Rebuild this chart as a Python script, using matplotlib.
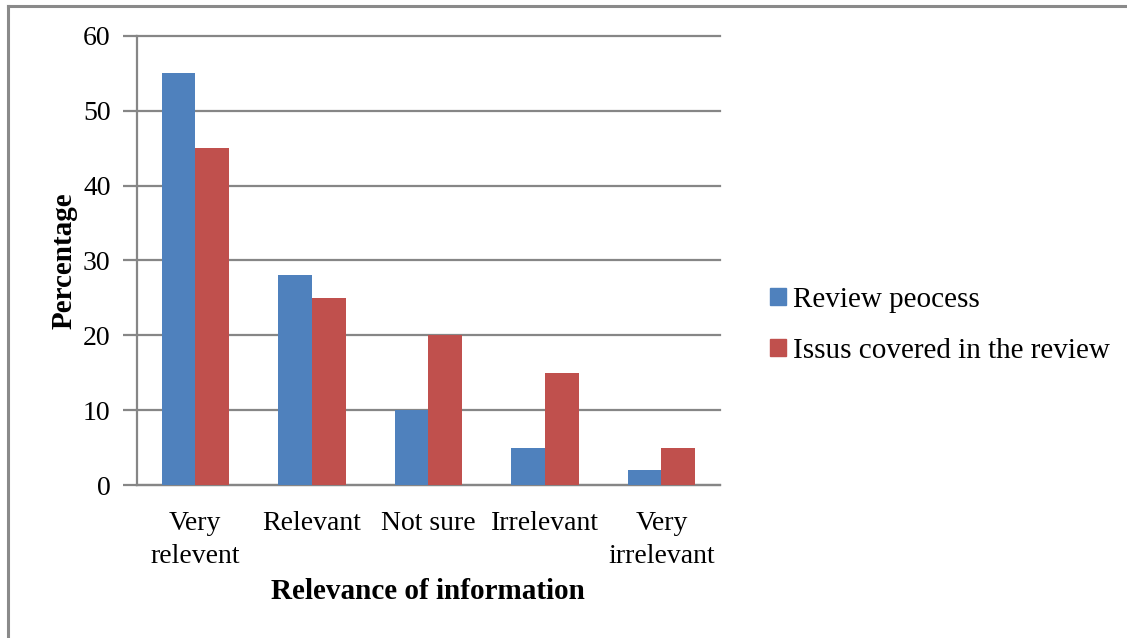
import numpy as np
import matplotlib.pyplot as plt
from matplotlib.lines import Line2D
from matplotlib.patches import Patch

# survey answers on how relevant the information was
categories = ["Very\nrelevent", "Relevant", "Not sure", "Irrelevant", "Very\nirrelevant"]
review_process = [55, 28, 10, 5, 2]
issues_covered = [45, 25, 20, 15, 5]
series_names = ["Review peocess", "Issus covered in the review"]

plt.rcParams['font.family'] = ['Liberation Serif', 'DejaVu Serif']

fig = plt.figure(figsize=(11.27, 6.38), dpi=100)
ax = fig.add_axes([0.1216, 0.2398, 0.517, 0.7038])

x = np.arange(len(categories))
w = 0.29
blue = '#4F81BD'
red = '#C0504D'
ax.bar(x - w / 2, review_process, w, color=blue, zorder=3)
ax.bar(x + w / 2, issues_covered, w, color=red, zorder=3)

ax.set_xlim(-0.5, len(categories) - 0.5)
ax.set_ylim(0, 60)
ax.set_yticks(range(0, 61, 10))
ax.yaxis.grid(True, color='#868686', linewidth=1.6, zorder=0)
for gl in ax.get_ygridlines():
    gl.set_clip_on(False)
ax.set_xticks(x)
ax.set_xticklabels(categories, fontsize=20, linespacing=1.42)
ax.tick_params(axis='x', length=0, pad=19)
ax.tick_params(axis='y', labelsize=20, length=10, width=1.6, color='#868686', pad=9)

for side in ['top', 'right']:
    ax.spines[side].set_visible(False)
for side in ['left', 'bottom']:
    ax.spines[side].set_color('#868686')
    ax.spines[side].set_linewidth(1.6)

ax.set_ylabel("Percentage", fontsize=21, fontweight='bold', labelpad=4)
ax.set_xlabel("Relevance of information", fontsize=21, fontweight='bold', labelpad=6)

handles = [Patch(color=blue), Patch(color=red)]
fig.legend(handles, series_names, loc='center left', bbox_to_anchor=(0.660, 0.49),
           frameon=False, fontsize=21, handlelength=0.55, handleheight=0.55,
           handletextpad=0.25, labelspacing=0.85)

# thin frame along the top and left edges
fig.add_artist(Line2D([0.007, 1.0], [0.99, 0.99], color='#8a8a8a', linewidth=2.2,
                      transform=fig.transFigure))
fig.add_artist(Line2D([0.007, 0.007], [0.0, 0.99], color='#8a8a8a', linewidth=2.2,
                      transform=fig.transFigure))

fig.savefig("out.png", dpi=100)
